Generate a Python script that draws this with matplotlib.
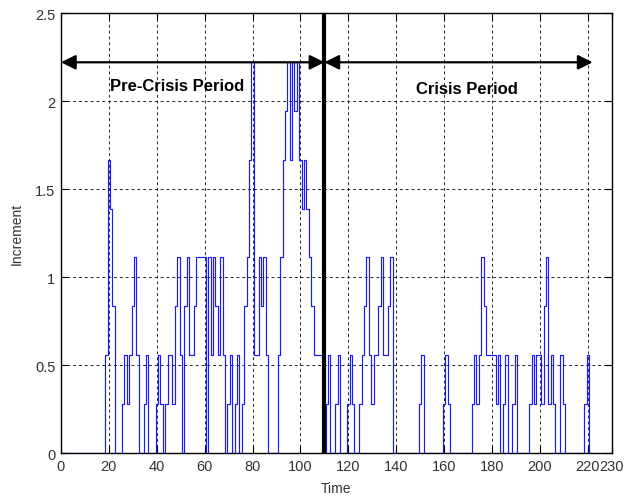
import matplotlib
matplotlib.use("Agg")
import matplotlib.pyplot as plt
import numpy as np

plt.rcParams["font.family"] = ["Liberation Sans", "DejaVu Sans"]

# increment per time step, in units of 5/18 (0.2778)
unit = 5 / 18
levels = [
    0, 0, 0, 0, 0, 0, 0, 0, 0, 0, 0, 0, 0, 0, 0, 0, 0, 0, 0, 2,   # 0-19
    6, 5, 3, 0, 0, 0, 1, 2, 1, 2, 3, 4, 2, 0, 0, 1, 2, 0, 0, 0,   # 20-39
    1, 2, 1, 0, 1, 2, 2, 1, 3, 4, 2, 0, 3, 4, 2, 2, 3, 4, 4, 4,   # 40-59
    4, 0, 4, 2, 4, 3, 2, 4, 2, 0, 1, 2, 0, 1, 2, 0, 1, 3, 4, 6,   # 60-79
    8, 2, 2, 4, 3, 4, 2, 0, 0, 0, 0, 2, 4, 6, 7, 8, 6, 8, 7, 8,   # 80-99
    6, 5, 6, 5, 4, 3, 2, 2, 2, 2, 0, 1, 2, 0, 0, 1, 2, 0, 0, 0,   # 100-119
    1, 2, 1, 0, 0, 1, 2, 3, 4, 2, 1, 2, 2, 3, 4, 2, 2, 3, 4, 0,   # 120-139
    0, 0, 0, 0, 0, 0, 0, 0, 0, 0, 1, 2, 0, 0, 0, 0, 0, 0, 0, 0,   # 140-159
    1, 2, 1, 0, 0, 0, 0, 0, 0, 0, 0, 0, 1, 2, 1, 2, 4, 3, 2, 2,   # 160-179
    2, 2, 1, 2, 0, 1, 2, 0, 0, 1, 2, 0, 0, 0, 0, 0, 1, 2, 1, 2,   # 180-199
    2, 1, 3, 4, 1, 2, 1, 0, 0, 2, 1, 0, 0, 0, 0, 0, 0, 0, 0, 1,   # 200-219
    2, 0, 0,                                                      # 220-222
]
time = np.arange(len(levels))
increment = np.array(levels) * unit

crisis_start = 110
arrow_y = 2.22
arrow_end = 222
x_ticks = [0, 20, 40, 60, 80, 100, 120, 140, 160, 180, 200, 220, 230]
y_ticks = [0, 0.5, 1, 1.5, 2, 2.5]

fig = plt.figure(figsize=(6.32, 5.02), dpi=100)
ax = fig.add_axes([0.0965, 0.0956, 0.8715, 0.8765])

ax.step(time, increment, where="mid", color="#1a1aff", lw=0.85, zorder=3)

# period split and the two period arrows
ax.axvline(crisis_start, color="black", lw=3, zorder=4)
arrow = dict(arrowstyle="<|-|>", color="black", lw=1.6, mutation_scale=22,
             shrinkA=0, shrinkB=0)
ax.annotate("", xy=(0, arrow_y), xytext=(crisis_start, arrow_y),
            arrowprops=arrow, zorder=5)
ax.annotate("", xy=(crisis_start, arrow_y), xytext=(arrow_end, arrow_y),
            arrowprops=arrow, zorder=5)
ax.text(48.5, 2.09, "Pre-Crisis Period", ha="center", va="center",
        fontsize=12, fontweight="bold", zorder=6)
ax.text(169.5, 2.07, "Crisis Period", ha="center", va="center",
        fontsize=12, fontweight="bold", zorder=6)

ax.set_xlim(0, 230)
ax.set_ylim(0, 2.5)
ax.set_xticks(x_ticks)
ax.set_yticks(y_ticks)
ax.set_yticklabels(["0", "0.5", "1", "1.5", "2", "2.5"])
ax.tick_params(direction="in", length=5, width=0.8, top=True, right=True,
               labelsize=10.5, pad=4, colors="#222222")
ax.tick_params(axis="both", colors="black", labelcolor="#333333")
ax.grid(True, color="black", linestyle=(0, (3, 3)), lw=0.7, alpha=0.85)
for s in ax.spines.values():
    s.set_linewidth(1.0)

ax.set_xlabel("Time", fontsize=10, labelpad=6, color="#333333")
ax.set_ylabel("Increment", fontsize=10, labelpad=8, color="#333333")

fig.savefig("out.png", dpi=100)
